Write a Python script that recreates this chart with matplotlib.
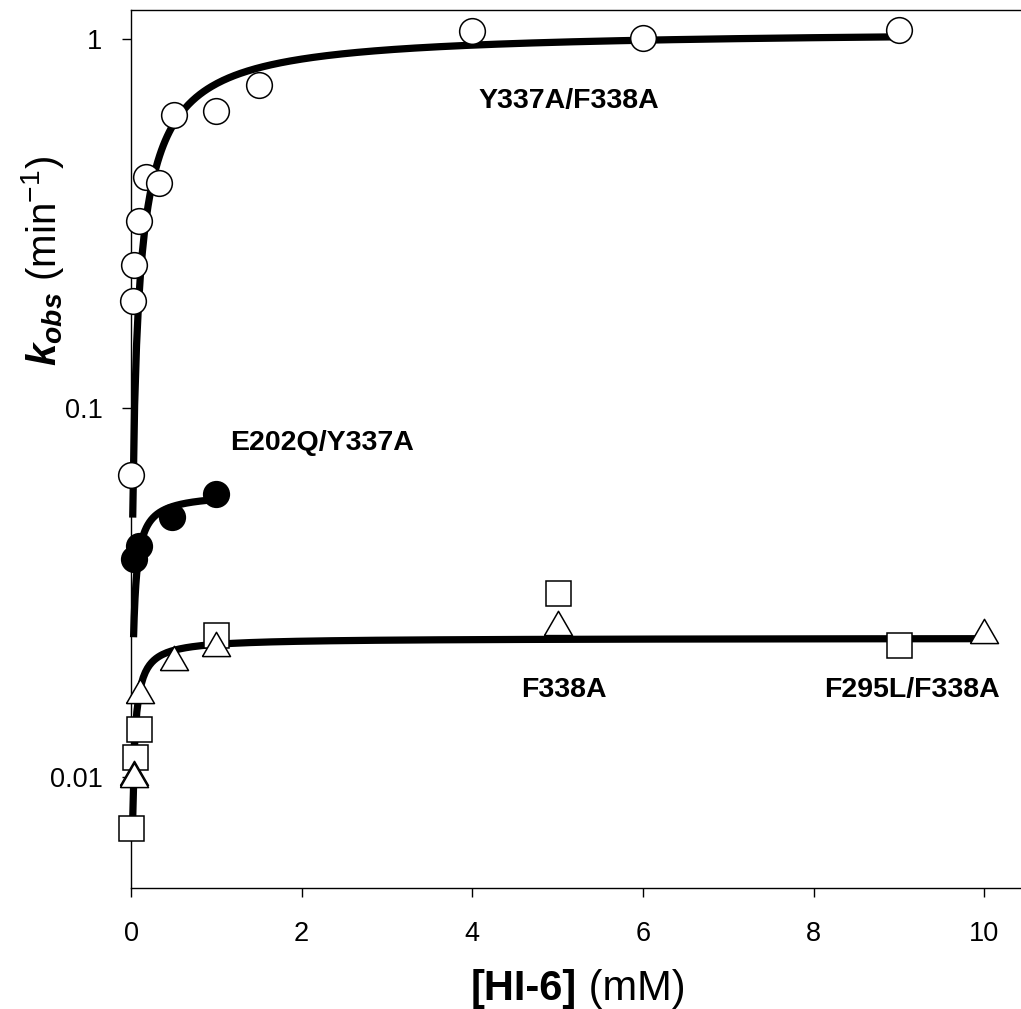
import numpy as np
import matplotlib
matplotlib.use("Agg")
import matplotlib.pyplot as plt
from matplotlib.ticker import NullLocator, FixedLocator, FixedFormatter

plt.rcParams['font.family'] = ['Liberation Sans', 'DejaVu Sans']
plt.rcParams['mathtext.fontset'] = 'custom'
plt.rcParams['mathtext.rm'] = 'Liberation Sans'
plt.rcParams['mathtext.it'] = 'Liberation Sans:italic'
plt.rcParams['mathtext.bf'] = 'Liberation Sans:bold'
plt.rcParams['mathtext.bfit'] = 'Liberation Sans:italic:bold'

# ---------------- data ----------------
# Y337A/F338A (open circles)
circ_x = [0.0, 0.02, 0.03, 0.09, 0.18, 0.33, 0.5, 1.0, 1.5, 4.0, 6.0, 9.0]
circ_k = [0.066, 0.195, 0.245, 0.321, 0.422, 0.408, 0.625, 0.637, 0.753, 1.055, 1.01, 1.057]
circ_fit = dict(kmax=1.06, KD=0.40, x_start=0.02, x_end=9.0)

# E202Q/Y337A (filled circles)
fill_x = [0.033, 0.09, 0.48, 1.0]
fill_k = [0.039, 0.0424, 0.0506, 0.0585]
fill_fit = dict(kmax=0.059, KD=0.044, x_start=0.03, x_end=1.0)

# open squares
sq_x = [0.0, 0.045, 0.09, 1.0, 5.0, 9.0]
sq_k = [0.00725, 0.01135, 0.01353, 0.0242, 0.03157, 0.02284]

# open triangles
tri_x = [0.03, 0.035, 0.1, 0.5, 1.0, 5.0, 10.0]
tri_k = [0.0100, 0.0099, 0.0167, 0.02055, 0.0224, 0.0255, 0.0243]
low_fit = dict(kmax=0.0238, KD=0.04, x_start=0.018, x_end=10.0)

y_ticks = [0.01, 0.1, 1]
y_ticklabels = ['0.01', '0.1', '1']
x_ticks = [0, 2, 4, 6, 8, 10]

labels = ['Y337A/F338A', 'E202Q/Y337A', 'F338A', 'F295L/F338A']
label_x = [5.13, 2.24, 5.07, 9.15]
label_y = [0.6526, 0.0770, 0.0165, 0.0165]

# ---------------- figure ----------------
W, H = 1021, 1009
AX_L, AX_R, AX_T, AX_B = 131, 1100, 10, 888   # pixel frame (right edge lies off canvas)
XMAX = 10.5 * (AX_R - AX_L) / (1027 - AX_L)
fig = plt.figure(figsize=(W / 100, H / 100), dpi=100, facecolor='white')
ax = fig.add_axes([AX_L / W, (H - AX_B) / H, (AX_R - AX_L) / W, (AX_B - AX_T) / H])
ax.set_yscale('log')
ax.set_xlim(0, XMAX)
ax.set_ylim(0.005, 1.2)


def hyper(p):
    x = np.linspace(p['x_start'], p['x_end'], 400)
    return x, p['kmax'] * x / (p['KD'] + x)


for p in (circ_fit, fill_fit, low_fit):
    xx, yy = hyper(p)
    ax.plot(xx, yy, color='black', lw=5.2, solid_capstyle='butt', zorder=2, clip_on=False)

ms_c = 18.5
ax.plot(circ_x, circ_k, 'o', ms=ms_c, mfc='white', mec='black', mew=1.1, ls='none',
        zorder=4, clip_on=False)
ax.plot(fill_x, fill_k, 'o', ms=ms_c, mfc='black', mec='black', mew=1.1, ls='none',
        zorder=4, clip_on=False)
ax.plot(sq_x, sq_k, 's', ms=18, mfc='white', mec='black', mew=1.1, ls='none',
        zorder=4, clip_on=False)
tri_marker = [(-1, -0.577), (1, -0.577), (0, 1.155), (-1, -0.577)]
ax.plot(tri_x, tri_k, marker=tri_marker, ms=23.3, mfc='white', mec='black', mew=1.1,
        ls='none', zorder=4, clip_on=False)

for s, x, y in zip(labels, label_x, label_y):
    ax.text(x, y, s, ha='center', va='baseline', fontsize=20.5, fontweight='bold')

# axes styling
for side in ('top', 'bottom', 'left'):
    ax.spines[side].set_linewidth(1.0)
ax.spines['right'].set_visible(False)
ax.yaxis.set_minor_locator(NullLocator())
ax.yaxis.set_major_locator(FixedLocator(y_ticks))
ax.yaxis.set_major_formatter(FixedFormatter(y_ticklabels))
ax.set_xticks(x_ticks)
ax.set_xticklabels([str(v) for v in x_ticks])
ax.tick_params(axis='both', which='major', direction='out', length=6.5, width=1.0,
               labelsize=19.5)
ax.tick_params(axis='x', pad=17)
ax.tick_params(axis='y', pad=14)
ax.tick_params(top=False, right=False)

# x label: bold part + regular part
fw = AX_R - AX_L
fh = AX_B - AX_T
xl = ax.set_xlabel('[HI-6]', fontsize=30, fontweight='bold', ha='left', va='baseline')
ax.xaxis.set_label_coords((471 - AX_L) / fw, (AX_B - 1000) / fh)
ax.annotate(' (mM)', xy=(1, 0), xycoords=xl, ha='left', va='bottom', fontsize=30)

ax.set_ylabel(r'$\mathbfit{k}_{\mathbfit{obs}}\ (\mathrm{min}^{-1})$', fontsize=29,
              va='center', ha='center')
ax.yaxis.set_label_coords(-(AX_L - 42) / fw, (AX_B - 261) / fh)

fig.savefig('out.png', dpi=100, facecolor='white')
